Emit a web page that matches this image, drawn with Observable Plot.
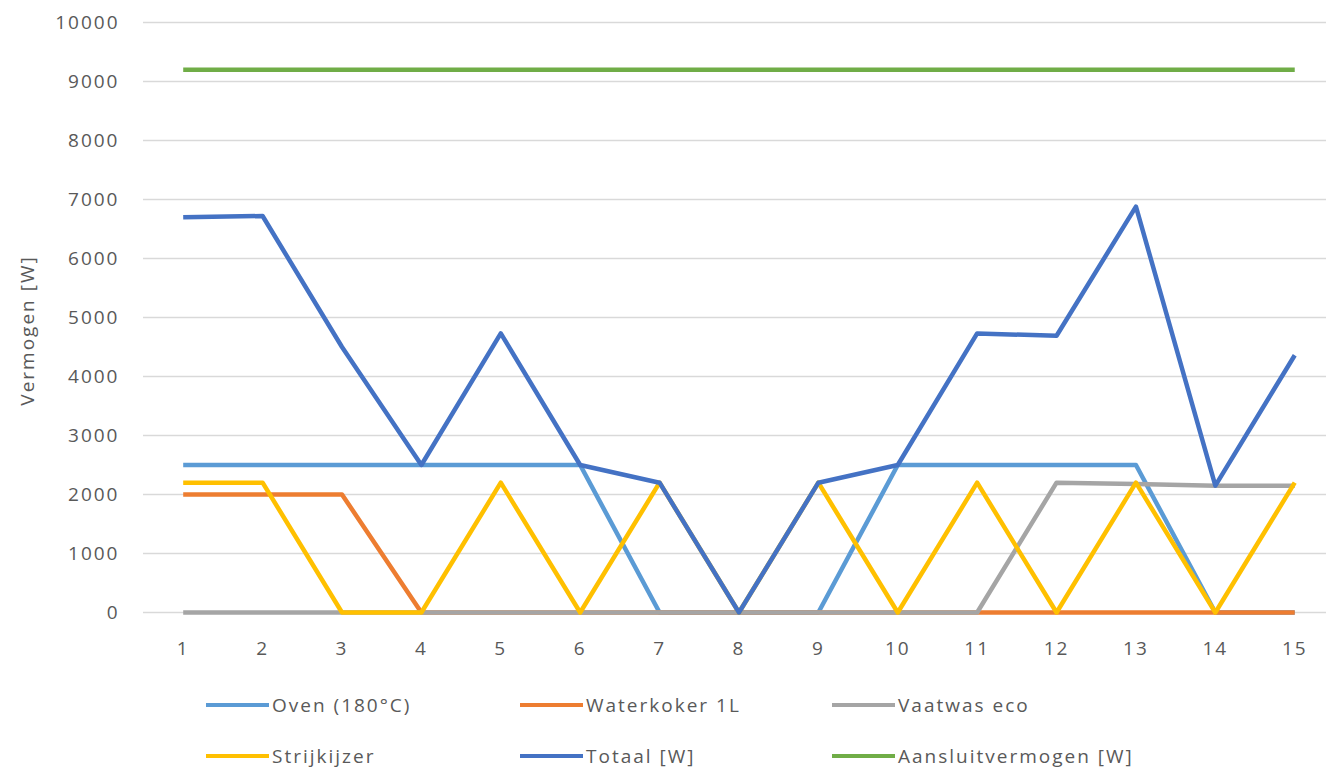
<!DOCTYPE html>
<html>
<head>
<meta charset="utf-8">
<script src="https://cdn.jsdelivr.net/npm/d3@7"></script>
<script src="https://cdn.jsdelivr.net/npm/@observablehq/plot@0.6"></script>
<style>
  html, body { margin: 0; padding: 0; background: #fff; }
  #wrap { position: relative; width: 1326px; height: 770px; font-family: "Open Sans", sans-serif; }
  .leg { position: absolute; display: flex; align-items: center; font-size: 19px; letter-spacing: 2px; color: #595959; white-space: nowrap; }
  .leg .sw { width: 63px; height: 4.5px; margin-right: 3px; }
</style>
</head>
<body>
<div id="wrap"></div>
<script>
const steps = [1,2,3,4,5,6,7,8,9,10,11,12,13,14,15];
const oven        = [2500,2500,2500,2500,2500,2500,0,0,0,2500,2500,2500,2500,0,0];
const waterkoker  = [2000,2000,2000,0,0,0,0,0,0,0,0,0,0,0,0];
const vaatwas     = [0,0,0,0,0,0,0,0,0,0,0,2200,2180,2150,2150];
const strijkijzer = [2200,2200,0,0,2200,0,2200,0,2200,0,2200,0,2200,0,2200];
const totaal      = [6700,6720,4500,2500,4730,2500,2200,0,2200,2500,4730,4690,6880,2150,4360];
const aansluit    = [9200,9200,9200,9200,9200,9200,9200,9200,9200,9200,9200,9200,9200,9200,9200];

const seriesNames = ["Oven (180°C)","Waterkoker 1L","Vaatwas eco","Strijkijzer","Totaal [W]","Aansluitvermogen [W]"];
const seriesValues = [oven, waterkoker, vaatwas, strijkijzer, totaal, aansluit];
const seriesColors = ["#5B9BD5","#ED7D31","#A5A5A5","#FFC000","#4472C4","#70AD47"];
const yTicks = [0,1000,2000,3000,4000,5000,6000,7000,8000,9000,10000];

const rows = [];
seriesNames.forEach((name, si) => {
  steps.forEach((s, i) => rows.push({series: name, step: s, value: seriesValues[si][i]}));
});

const plot = Plot.plot({
  width: 1326,
  height: 680,
  marginLeft: 143,
  marginRight: 0,
  marginTop: 22,
  marginBottom: 68,
  style: {fontFamily: "Open Sans, sans-serif", fontSize: "19px", color: "#595959", background: "#fff"},
  x: {domain: [0.5, 15.4], ticks: steps, tickFormat: d => String(d)},
  y: {domain: [0, 10000], ticks: yTicks, label: null},
  color: {domain: seriesNames, range: seriesColors},
  marks: [
    Plot.gridY(yTicks, {stroke: "#d9d9d9", strokeOpacity: 1, strokeWidth: 1.5}),
    Plot.axisX({ticks: steps, tickSize: 0, tickPadding: 29, label: null, fontSize: 19, tickFormat: d => String(d)}),
    Plot.axisY({ticks: yTicks, tickSize: 0, tickPadding: 24, label: null, fontSize: 19, tickFormat: d => String(d)}),
    Plot.text(["Vermogen [W]"], {frameAnchor: "left", textAnchor: "middle", dx: -116, dy: 13, rotate: -90, fontSize: 19, fill: "#595959"}),
    Plot.line(rows, {x: "step", y: "value", z: "series", stroke: d => d.series, strokeWidth: 4.5, strokeLinejoin: "round", strokeLinecap: "butt"})
  ]
});
d3.select(plot).selectAll("text").style("letter-spacing", "2px");
plot.style.position = "absolute";
plot.style.left = "0px";
plot.style.top = "0px";
const wrap = document.getElementById("wrap");
wrap.appendChild(plot);

const legPos = [[206,705],[520,705],[832,705],[206,756],[520,756],[832,756]];
seriesNames.forEach((name, i) => {
  const d = document.createElement("div");
  d.className = "leg";
  d.style.left = legPos[i][0] + "px";
  d.style.top = (legPos[i][1] - 14) + "px";
  d.style.height = "28px";
  const sw = document.createElement("div");
  sw.className = "sw";
  sw.style.background = seriesColors[i];
  d.appendChild(sw);
  const t = document.createElement("span");
  t.textContent = name;
  d.appendChild(t);
  wrap.appendChild(d);
});
</script>
</body>
</html>
